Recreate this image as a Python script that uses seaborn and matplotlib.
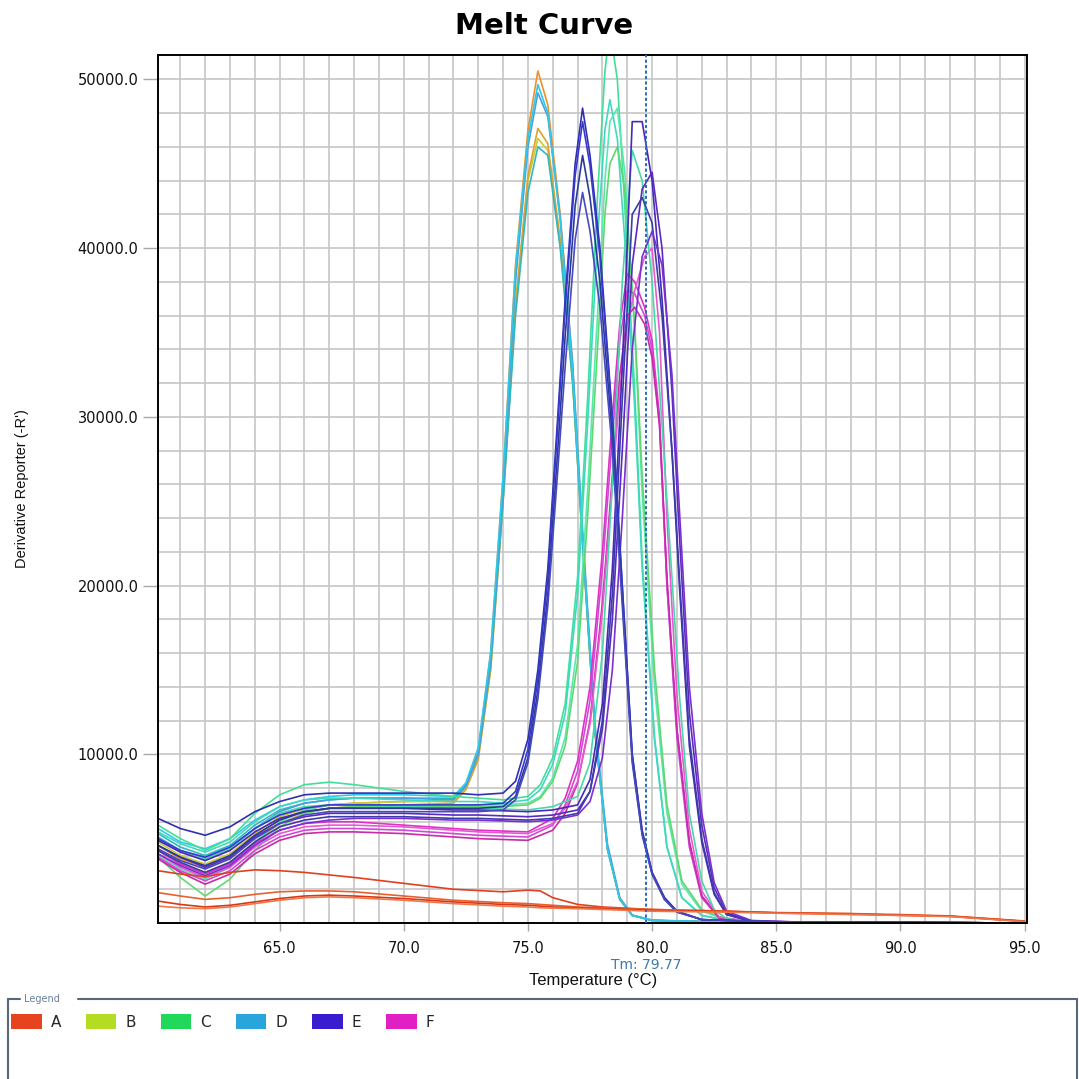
import numpy as np
import pandas as pd
import matplotlib
matplotlib.use("Agg")
import matplotlib.pyplot as plt
import seaborn as sns
from matplotlib.ticker import MultipleLocator, FixedLocator, FormatStrFormatter
from matplotlib.patches import Patch
from matplotlib.lines import Line2D
from matplotlib.transforms import blended_transform_factory

# ---------------- data ----------------
temps_base = [60.1, 61, 62, 63, 64, 65, 66, 67, 68, 70, 72]

# Family 1: cyan / orange wells, peak ~75.4
temps_f1 = [72.5, 73, 73.5, 74, 74.5, 75, 75.4, 75.8, 76.3, 76.8, 77.2, 77.7, 78.2, 78.7, 79.2, 80, 82, 85, 90, 95]
f1_orange = [4600, 3800, 3300, 3900, 5100, 6100, 6700, 7000, 7100, 7200, 7300,
             8200, 10200, 16000, 26500, 39000, 47000, 50500, 48500, 42000, 33000, 23000, 11500, 4500, 1400, 450, 150, 80, 50, 30, 0]
f1_cyan = [5600, 4800, 4400, 5000, 6100, 6900, 7300, 7500, 7600, 7600, 7500,
           8300, 10400, 16100, 26500, 38800, 46500, 49700, 48000, 41600, 32700, 22800, 11400, 4400, 1400, 450, 160, 80, 50, 30, 0]
f1_sky = [5100, 4300, 3800, 4400, 5600, 6600, 7100, 7300, 7400, 7400, 7300,
          8100, 10000, 15500, 25800, 38000, 46000, 49200, 47800, 41800, 33200, 23300, 11800, 4700, 1500, 470, 170, 90, 50, 30, 0]
f1_amber = [4300, 3500, 3000, 3600, 4800, 5900, 6500, 6800, 6900, 7000, 7100,
            7900, 9700, 15000, 25000, 36500, 44300, 47100, 46200, 40500, 32200, 22600, 11300, 4400, 1400, 450, 150, 80, 50, 30, 0]
f1_teal = [5300, 4500, 4000, 4600, 5800, 6700, 7100, 7300, 7400, 7400, 7400,
           8200, 10000, 15300, 25000, 36000, 43300, 46000, 45500, 40000, 32000, 22500, 11300, 4400, 1400, 450, 150, 80, 50, 30, 0]
f1_yellow = [4800, 4000, 3500, 4100, 5300, 6300, 6800, 7000, 7100, 7200, 7200,
             8000, 9800, 15100, 25300, 36800, 44000, 46500, 45800, 40200, 32100, 22500, 11300, 4400, 1400, 450, 150, 80, 50, 30, 0]

# Family 2: dark blue wells, peak ~77.2
temps_f2 = [73, 74, 74.5, 75, 75.4, 75.8, 76.2, 76.5, 76.9, 77.2, 77.5, 77.9, 78.4, 78.8, 79.2, 79.6, 80, 80.5, 81, 82, 85, 90, 95]
f2_blue1 = [6200, 5600, 5200, 5700, 6600, 7200, 7600, 7700, 7700, 7700, 7700,
            7600, 7700, 8400, 10900, 15000, 21000, 30000, 37000, 45000, 48300, 45500, 40000, 30000, 20000, 10000, 5500, 3000, 1500, 700, 200, 60, 30, 0]
f2_blue2 = [5000, 4300, 3900, 4500, 5600, 6400, 6800, 7000, 7000, 7000, 7000,
            7000, 7100, 7800, 10300, 14500, 20500, 29500, 36500, 44300, 47500, 44900, 39500, 29800, 19900, 10000, 5400, 3000, 1500, 700, 200, 60, 30, 0]
f2_navy = [4600, 3900, 3400, 4000, 5200, 6100, 6600, 6800, 6800, 6800, 6800,
           6800, 6900, 7500, 9800, 13800, 19500, 28000, 34800, 42500, 45500, 43000, 38000, 28800, 19300, 9700, 5300, 2900, 1400, 650, 200, 60, 30, 0]
f2_slate = [4400, 3700, 3200, 3800, 5000, 5900, 6400, 6600, 6600, 6600, 6600,
            6600, 6700, 7300, 9500, 13300, 18800, 26800, 33000, 40500, 43300, 41000, 36500, 28000, 18800, 9500, 5200, 2900, 1400, 650, 200, 60, 30, 0]

# Family 3: sea-green wells, peak ~78.3
temps_f3 = [73, 74, 75, 75.5, 76, 76.5, 77, 77.4, 77.8, 78.1, 78.3, 78.6, 78.9, 79.3, 79.6, 80.1, 80.6, 81.2, 82, 83, 85, 90, 95]
f3_green = [5800, 5000, 4300, 5000, 6500, 7600, 8200, 8350, 8200, 7800, 7500,
            7400, 7300, 7500, 8200, 9800, 13000, 20500, 31000, 43000, 50500, 53000, 50000, 42500, 31500, 21500, 11000, 4500, 1500, 450, 150, 60, 30, 0]
f3_aqua = [5400, 4700, 4200, 4800, 6000, 6900, 7300, 7400, 7400, 7300, 7200,
           7200, 7100, 7300, 7900, 9400, 12400, 19500, 29500, 40500, 47000, 48800, 46500, 40500, 30500, 21000, 10800, 4500, 1500, 450, 150, 60, 30, 0]
f3_mint = [4000, 3200, 2600, 3300, 4800, 6000, 6700, 7000, 7000, 7000, 7000,
           7000, 7000, 7100, 7500, 8600, 11000, 16500, 25500, 36000, 44000, 47500, 48300, 44500, 35000, 25500, 14000, 6500, 2300, 700, 200, 60, 30, 0]
f3_lime = [3900, 2700, 1600, 2600, 4300, 5700, 6500, 6800, 6900, 6900, 6900,
           6900, 6900, 7000, 7400, 8400, 10500, 15500, 24000, 34000, 42000, 45000, 46000, 43500, 35500, 26500, 15000, 7000, 2500, 800, 200, 60, 30, 0]

# Family 4: purple wells, peak ~79.5
temps_f4 = [73, 75, 76, 77, 77.5, 78, 78.4, 78.8, 79.2, 79.6, 80, 80.4, 80.8, 81.1, 81.5, 82, 82.5, 83, 84, 86, 90, 95]
f4_purple = [4900, 4200, 3700, 4300, 5400, 6200, 6600, 6800, 6800, 6800, 6700,
             6700, 6600, 6700, 7000, 8500, 13000, 21000, 33000, 47500, 47500, 44000, 37000, 28000, 20000, 10500, 4800, 1700, 500, 100, 50, 30, 0]
f4_violet = [4600, 3900, 3300, 3900, 5100, 5900, 6300, 6500, 6500, 6500, 6400,
             6400, 6300, 6400, 6700, 7800, 11500, 18000, 28000, 39000, 43500, 44500, 40000, 31500, 23000, 12500, 5800, 2100, 600, 120, 50, 30, 0]
f4_indigo = [4300, 3600, 3000, 3600, 4800, 5700, 6100, 6300, 6300, 6300, 6200,
             6200, 6100, 6200, 6500, 7800, 12000, 19500, 31000, 42000, 43000, 41500, 36000, 28000, 20500, 11000, 5000, 1800, 500, 100, 50, 30, 0]
f4_lilac = [4100, 3400, 2800, 3400, 4600, 5500, 5900, 6100, 6200, 6200, 6100,
            6100, 6000, 6100, 6400, 7200, 9800, 15000, 24000, 34000, 39500, 41000, 39000, 32500, 24500, 14000, 6500, 2400, 700, 150, 50, 30, 0]
f4_sea = [5000, 4300, 3800, 4400, 5600, 6500, 6900, 7000, 7000, 6900, 6800,
          6800, 6700, 6900, 7500, 9500, 16000, 26000, 38000, 45800, 44000, 38000, 29500, 20500, 13500, 6500, 2500, 800, 250, 80, 40, 30, 0]

# Family 5: magenta wells, peak ~79.1
temps_f5 = [73, 75, 76, 76.5, 77, 77.5, 78, 78.4, 78.7, 79, 79.3, 79.7, 80, 80.3, 80.6, 81, 81.5, 82, 82.7, 84, 90, 95]
f5_magenta = [4300, 3500, 2900, 3500, 4700, 5500, 5900, 6000, 6000, 5800, 5600,
              5500, 5400, 6200, 7400, 9600, 14000, 22000, 30000, 35500, 38500, 38000, 36500, 34500, 30000, 20000, 11500, 4800, 1600, 300, 80, 30, 0]
f5_orchid = [3900, 3100, 2500, 3100, 4300, 5100, 5500, 5600, 5600, 5500, 5300,
             5200, 5100, 5800, 7000, 9000, 13200, 21000, 28800, 34500, 37500, 37300, 36000, 34000, 29500, 20000, 11000, 4500, 1500, 300, 80, 30, 0]
f5_plum = [3800, 3000, 2300, 2900, 4100, 4900, 5300, 5400, 5400, 5300, 5100,
           5000, 4900, 5500, 6500, 8300, 12000, 19000, 26500, 32500, 36000, 36500, 35500, 33500, 29500, 20500, 11500, 4800, 1600, 300, 80, 30, 0]
f5_pink = [4100, 3300, 2700, 3300, 4500, 5300, 5700, 5800, 5800, 5700, 5500,
           5400, 5300, 5900, 6800, 8400, 11800, 18500, 26000, 31500, 35500, 37500, 39500, 40000, 35000, 24000, 13500, 5600, 1900, 350, 90, 30, 0]

# Group A: no-template wells (flat, red)
temps_a = [60.1, 61, 62, 63, 64, 65, 66, 67, 68, 70, 72, 74, 75, 75.5, 76, 77, 78, 80, 83, 85, 88, 90, 92, 95]
a_red1 = [3100, 2900, 2750, 3000, 3150, 3100, 3000, 2850, 2700, 2350, 2000, 1850, 1950, 1900, 1500, 1100, 950, 800, 700, 600, 550, 450, 400, 100]
a_red2 = [1800, 1600, 1400, 1500, 1700, 1850, 1900, 1900, 1850, 1600, 1350, 1200, 1150, 1100, 1050, 950, 900, 800, 700, 620, 560, 500, 420, 120]
a_red3 = [1300, 1100, 950, 1050, 1250, 1450, 1600, 1650, 1600, 1450, 1250, 1100, 1050, 1000, 950, 900, 850, 750, 680, 600, 520, 470, 400, 100]
a_red4 = [1000, 900, 850, 950, 1150, 1350, 1500, 1550, 1500, 1350, 1150, 1000, 950, 900, 880, 850, 800, 700, 640, 580, 500, 450, 380, 80]

legend_labels = ["A", "B", "C", "D", "E", "F"]
legend_colors = ["#e5441e", "#b4dc22", "#22d85a", "#28a6dc", "#3a1ccf", "#e020c4"]
tm_value = 79.77

# ---------------- assemble ----------------
curves = [
    ("f1_orange", temps_base + temps_f1, f1_orange, "#f09028"),
    ("f1_yellow", temps_base + temps_f1, f1_yellow, "#c8cc30"),
    ("f1_amber", temps_base + temps_f1, f1_amber, "#e0a030"),
    ("f1_teal", temps_base + temps_f1, f1_teal, "#30b8c0"),
    ("f1_sky", temps_base + temps_f1, f1_sky, "#48a0e0"),
    ("f1_cyan", temps_base + temps_f1, f1_cyan, "#30c8e8"),
    ("f3_green", temps_base + temps_f3, f3_green, "#40e098"),
    ("f3_aqua", temps_base + temps_f3, f3_aqua, "#40d8c0"),
    ("f3_mint", temps_base + temps_f3, f3_mint, "#58e8b0"),
    ("f3_lime", temps_base + temps_f3, f3_lime, "#60d870"),
    ("f5_magenta", temps_base + temps_f5, f5_magenta, "#e030c8"),
    ("f5_orchid", temps_base + temps_f5, f5_orchid, "#d048d8"),
    ("f5_plum", temps_base + temps_f5, f5_plum, "#c82aa8"),
    ("f5_pink", temps_base + temps_f5, f5_pink, "#e858d0"),
    ("f4_sea", temps_base + temps_f4, f4_sea, "#48d8a8"),
    ("f4_purple", temps_base + temps_f4, f4_purple, "#4828b8"),
    ("f4_violet", temps_base + temps_f4, f4_violet, "#5a2ac0"),
    ("f4_indigo", temps_base + temps_f4, f4_indigo, "#3c3ca8"),
    ("f4_lilac", temps_base + temps_f4, f4_lilac, "#7a30d0"),
    ("f2_blue1", temps_base + temps_f2, f2_blue1, "#3030b0"),
    ("f2_blue2", temps_base + temps_f2, f2_blue2, "#3838d0"),
    ("f2_navy", temps_base + temps_f2, f2_navy, "#2a3a98"),
    ("f2_slate", temps_base + temps_f2, f2_slate, "#4848c0"),
    ("a_red1", temps_a, a_red1, "#e04020"),
    ("a_red2", temps_a, a_red2, "#e86030"),
    ("a_red3", temps_a, a_red3, "#d83818"),
    ("a_red4", temps_a, a_red4, "#f07848"),
]

rows = []
for name, tt, vv, _ in curves:
    assert len(tt) == len(vv), name
    for t, v in zip(tt, vv):
        rows.append((name, t, v))
df = pd.DataFrame(rows, columns=["well", "temp", "value"])
palette = {name: c for name, _, _, c in curves}

# ---------------- plot ----------------
sns.set_theme(style="white")
plt.rcParams["font.family"] = ["DejaVu Sans"]

W, H = 1079, 1079
fig = plt.figure(figsize=(W / 100, H / 100), dpi=100)
ax = fig.add_axes([158 / W, 1 - 923 / H, (1027 - 158) / W, (923 - 55) / H])

sns.lineplot(data=df, x="temp", y="value", hue="well", units="well",
             estimator=None, sort=False, palette=palette, hue_order=list(palette),
             legend=False, lw=1.2, ax=ax)

ax.set_xlim(60.1, 95.1)
ax.set_ylim(0, 51450)

ax.xaxis.set_major_locator(MultipleLocator(5))
ax.xaxis.set_minor_locator(MultipleLocator(1))
ax.xaxis.set_major_formatter(FormatStrFormatter("%.1f"))
ax.yaxis.set_major_locator(FixedLocator([10000, 20000, 30000, 40000, 50000]))
ax.yaxis.set_minor_locator(MultipleLocator(2000))
ax.yaxis.set_major_formatter(FormatStrFormatter("%.1f"))

ax.grid(which="both", color="#c6c6c6", lw=1.2)
ax.set_axisbelow(True)
ax.tick_params(axis="x", which="both", direction="out", length=6, width=1,
               color="#a8a8a8", labelsize=10.5, pad=7, labelcolor="#111111")
ax.tick_params(axis="y", which="both", direction="out", length=11, width=1,
               color="#a8a8a8", labelsize=10.5, pad=3, labelcolor="#111111")
ax.tick_params(bottom=True, left=True)
for s in ax.spines.values():
    s.set_color("black")
    s.set_linewidth(1.4)
ax.set_xlabel("")
ax.set_ylabel("")

# Tm marker
ax.axvline(tm_value, color="#2a6ab8", ls=(0, (1.6, 1.2)), lw=1.4, zorder=5)
btrans = blended_transform_factory(ax.transData, fig.transFigure)
ax.text(tm_value, 1 - 965 / H, f"Tm: {tm_value:.2f}", transform=btrans,
        ha="center", va="center", fontsize=10, color="#3a7ab0")

# labels and title
fig.text(593 / W, 1 - 981 / H, "Temperature (°C)", ha="center", va="center",
         fontsize=12, color="#111111", family=["Liberation Sans", "DejaVu Sans"])
fig.text(22 / W, 1 - 489 / H, "Derivative Reporter (-R')", ha="center", va="center",
         rotation=90, fontsize=10.5, color="#111111", family=["Liberation Sans", "DejaVu Sans"])
fig.text(544 / W, 1 - 26 / H, "Melt Curve", ha="center", va="center",
         fontsize=21, fontweight="bold", color="black")

# legend group box
box_col = "#586878"
fig.add_artist(Line2D([8 / W, 8 / W], [1 - 999 / H, 0], transform=fig.transFigure, color=box_col, lw=1.5))
fig.add_artist(Line2D([8 / W, 20 / W], [1 - 999 / H, 1 - 999 / H], transform=fig.transFigure, color=box_col, lw=1.5))
fig.add_artist(Line2D([78 / W, 1077 / W], [1 - 999 / H, 1 - 999 / H], transform=fig.transFigure, color=box_col, lw=1.5))
fig.add_artist(Line2D([1077 / W, 1077 / W], [1 - 999 / H, 0], transform=fig.transFigure, color=box_col, lw=1.5))
fig.text(24 / W, 1 - 999 / H, "Legend", ha="left", va="center", fontsize=7, color="#6a80a0")

handles = [Patch(facecolor=c, edgecolor="none", label=l) for l, c in zip(legend_labels, legend_colors)]
fig.legend(handles=handles, loc="center left", bbox_to_anchor=(11 / W, 1 - 1022 / H),
           ncol=6, frameon=False, handlelength=2.0, handleheight=1.15, handletextpad=0.6,
           columnspacing=1.62, fontsize=11, borderaxespad=0, borderpad=0)

fig.savefig("out.png", dpi=100, facecolor="white")
